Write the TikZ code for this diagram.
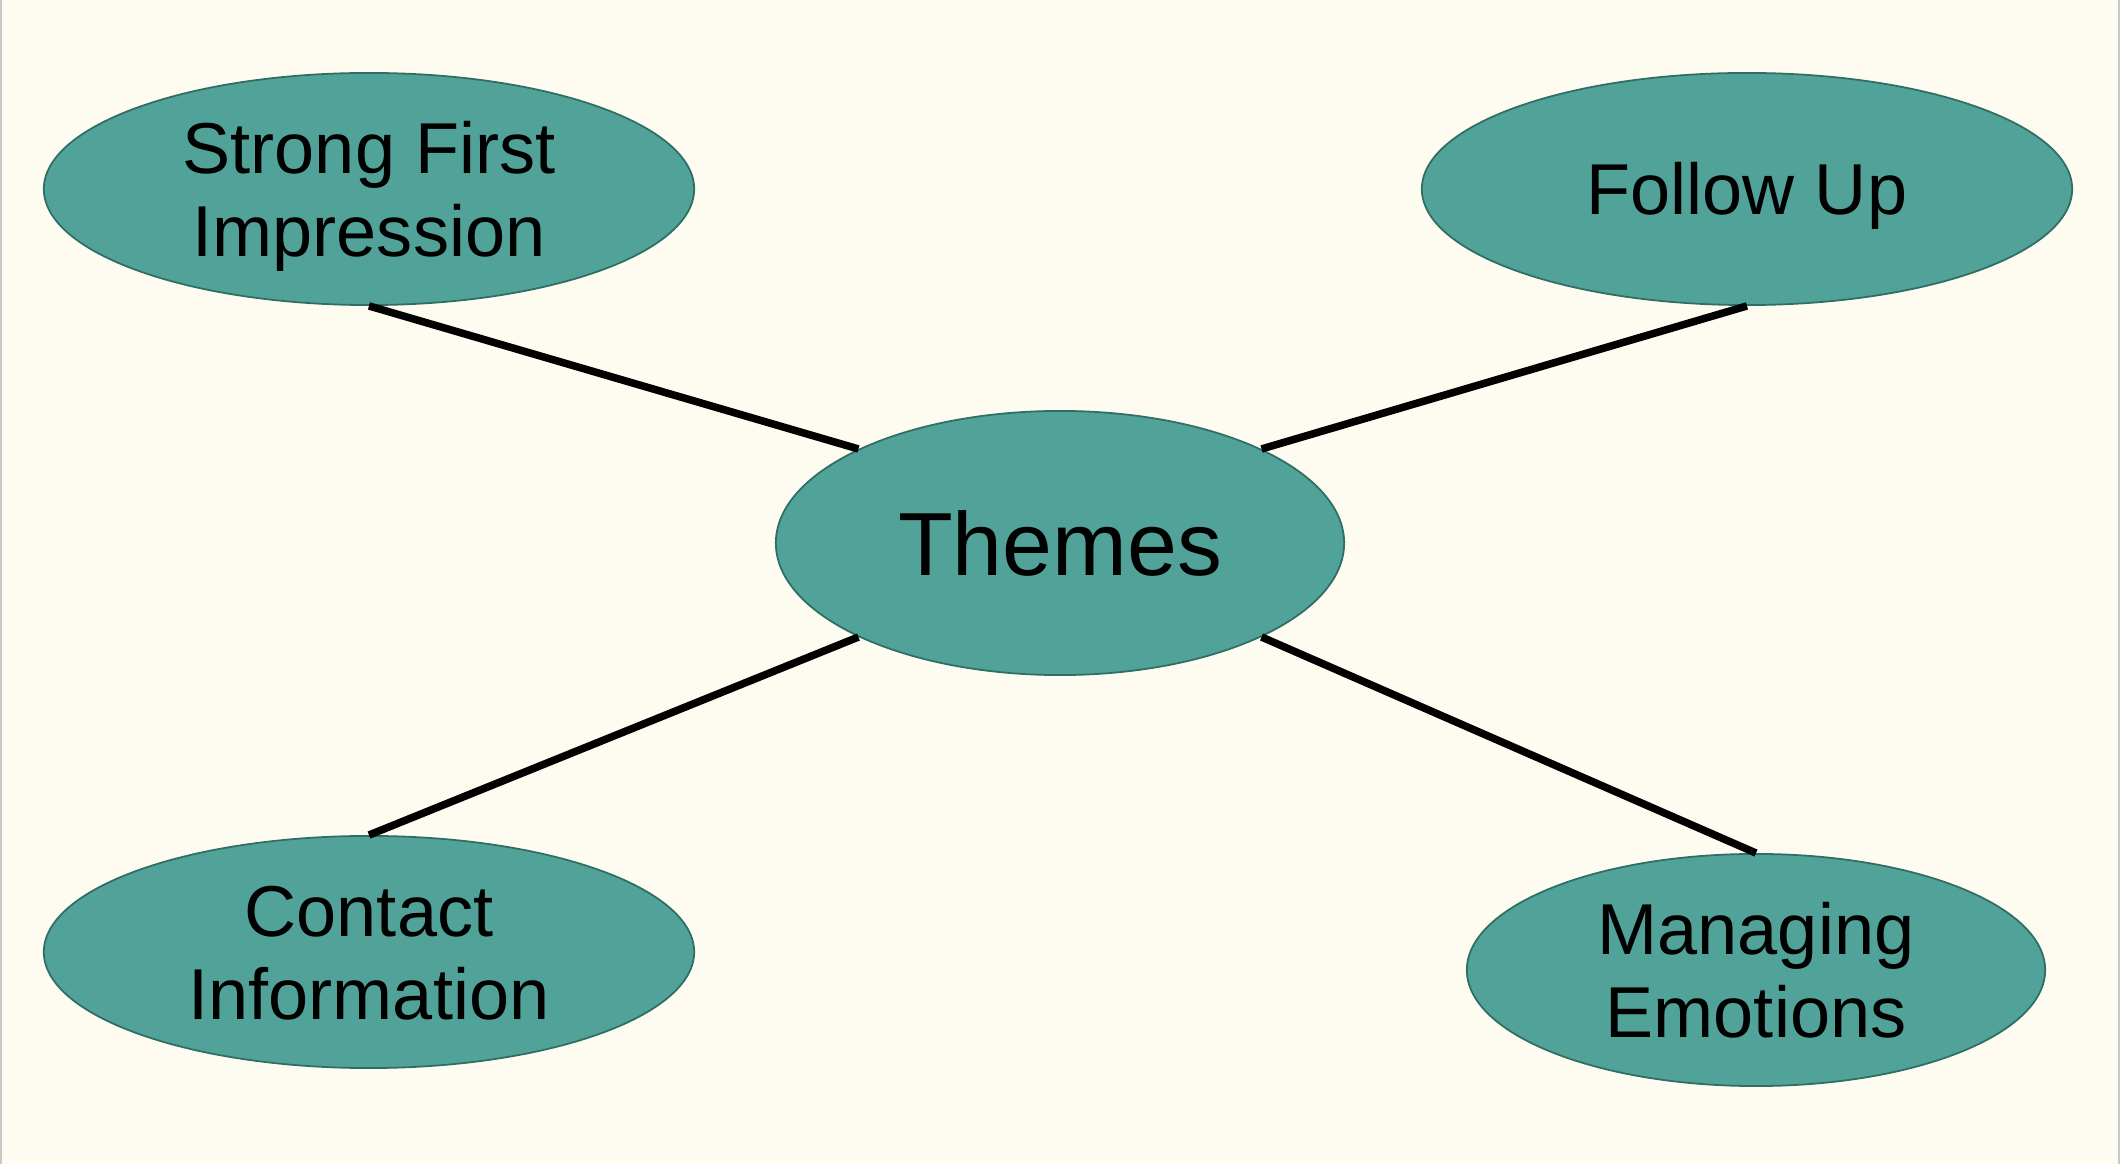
\documentclass[tikz,border=0pt]{standalone}
\usepackage{fontspec}
\setmainfont{Liberation Sans}
\usepackage{xcolor}
\usepackage{tikz}
\usetikzlibrary{shapes}
\definecolor{paper}{RGB}{254,252,240}
\definecolor{themefill}{RGB}{81,162,153}
\definecolor{themeline}{RGB}{47,110,100}
\definecolor{edgegrey}{RGB}{200,200,200}
\tikzstyle{bubble}=[ellipse, draw=themeline, line width=0.5pt, fill=themefill, inner sep=0pt,
        align=center, text=black, font=\fontsize{20.5pt}{23.7pt}\selectfont,
        minimum width=6.5cm, minimum height=2.32cm]
\tikzstyle{oneline}=[text height=14.7pt, text depth=0pt]
\tikzstyle{twolines}=[text height=38.4pt, text depth=0pt]
\tikzstyle{central}=[bubble, font=\fontsize{25.5pt}{30pt}\selectfont,
        minimum width=5.68cm, minimum height=2.64cm, text height=18.3pt, text depth=0pt]
\tikzstyle{link}=[line width=2.15pt, draw=black]

\begin{document}
\begin{tikzpicture}[x=0.01cm, y=-0.01cm]
        % page
        \fill[paper] (0,0) rectangle (2120,1164);
        \fill[edgegrey] (0,0) rectangle (2.5,1164);
        \fill[edgegrey] (2117.5,0) rectangle (2120,1164);
        \node (Themes) [central] at (1060,543)
        {%
          Themes%
        };
        \node (Impression) [bubble, twolines] at (369,189)
        {%
          Strong First\\Impression%
        };
        \node (FollowUp) [bubble, oneline] at (1747,189)
        {%
          Follow Up%
        };
        \node (Contact) [bubble, twolines] at (369,952)
        {%
          Contact\\Information%
        };
        \node (Emotions) [bubble, twolines, minimum width=5.78cm] at (1756,970)
        {%
          Managing\\Emotions%
        };
        \draw[link] (Impression.south) -- (Themes.north west);
        \draw[link] (FollowUp.south) -- (Themes.north east);
        \draw[link] (Contact.north) -- (Themes.south west);
        \draw[link] (Emotions.north) -- (Themes.south east);
      \end{tikzpicture}
\end{document}
